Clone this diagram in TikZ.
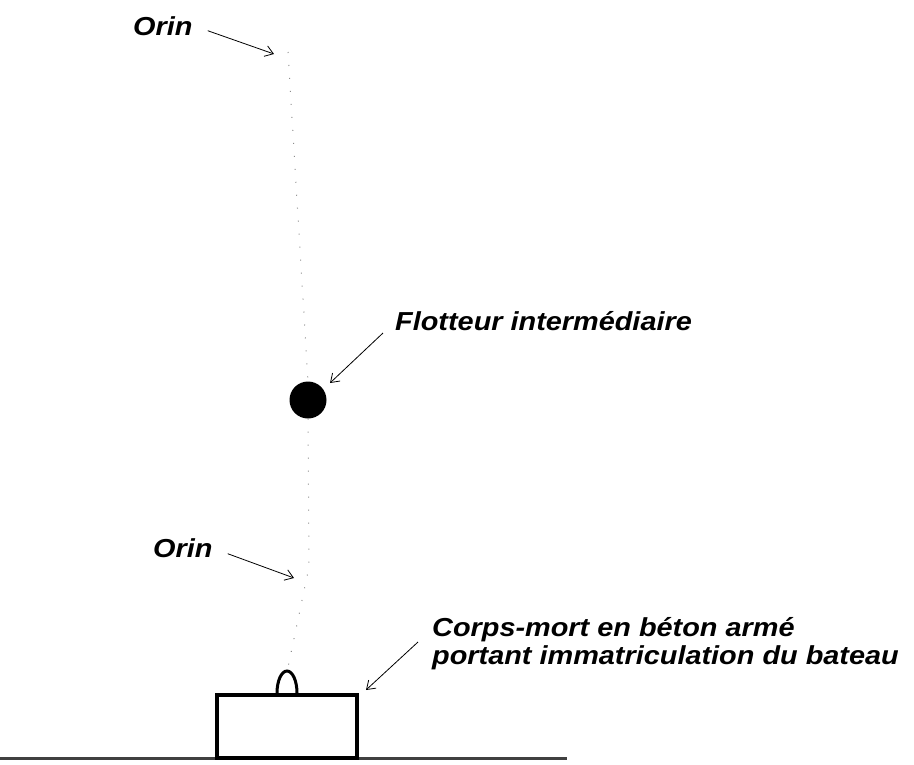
\documentclass[tikz,border=0pt]{standalone}
\usepackage{fontspec}
\setmainfont{Liberation Sans}
\newfontfamily\legendefont[FakeStretch=1.11]{Liberation Sans}
\usetikzlibrary{arrows.meta}

\begin{document}
\begin{tikzpicture}[
            x=1pt, y=-1pt,
            legende/.style={anchor=base west, inner sep=0pt, align=left,
                    font=\legendefont\fontsize{26}{28}\selectfont\bfseries\itshape},
            fleche/.style={-{Straight Barb[length=8pt,width=11pt]}, line width=0.8pt},
            cordage/.style={black!45, line width=1pt, dash pattern=on 1pt off 12pt}
        ]
        \useasboundingbox (0,0) rectangle (914,764);

        % fond marin et corps-mort
        \draw[line width=3pt, black!75] (0,758) -- (567,758);
        \node[draw, line width=4pt, minimum width=140pt, minimum height=63pt,
            inner sep=0pt] (corpsmort) at (287,726.5) {};
        \draw[line width=3pt] ([xshift=-10pt]corpsmort.north) arc (180:0:10pt and 22pt);
        \coordinate (anneau) at (287,672);

        % flotteur et orins
        \node[circle, fill=black, minimum size=37pt, inner sep=0pt] (flotteur) at (308,400) {};
        \coordinate (orinhaut) at (288,52);
        \coordinate (orinbas) at (309,567);
        \draw[cordage] (orinhaut) -- (flotteur.north);
        \draw[cordage] (flotteur.south) -- (orinbas) -- (anneau);

        % legendes
        \node[legende] (orin1) at (133,35) {Orin};
        \node[legende] (orin2) at (153,557) {Orin};
        \node[legende] (lflotteur) at (395,330) {Flotteur intermédiaire};
        \node[legende] (lcorps) at (432,664) {Corps-mort en béton armé\\portant immatriculation du bateau};

        \coordinate (c1) at (274,54);
        \coordinate (c2) at (294,578);
        \coordinate (c3) at (330,383);
        \coordinate (c4) at (366,690);
        \draw[fleche] ([shift={(15pt,-5pt)}]orin1.east) -- (c1);
        \draw[fleche] ([shift={(15pt,-6pt)}]orin2.east) -- (c2);
        \draw[fleche] ([shift={(-12pt,-3pt)}]lflotteur.base west) -- (c3);
        \draw[fleche] ([shift={(-14pt,22pt)}]lcorps.base west) -- (c4);
    \end{tikzpicture}
\end{document}
